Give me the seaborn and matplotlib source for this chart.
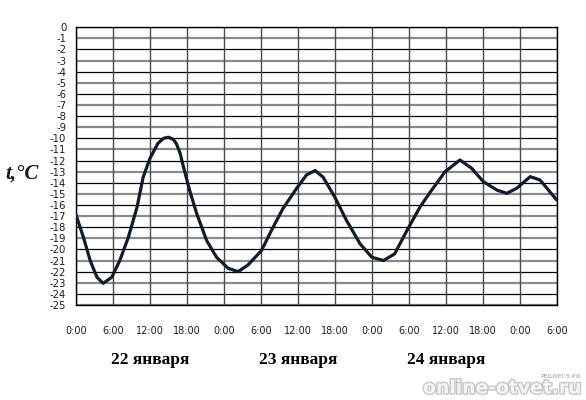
import matplotlib
matplotlib.use("Agg")
import matplotlib.pyplot as plt
import matplotlib.patheffects as pe
import matplotlib.transforms as mtransforms
import numpy as np
import pandas as pd
import seaborn as sns

# Temperature readings (hours since 0:00 on 22 January, degrees C).
hours = [0, 1.2, 2.3, 3.4, 4.4, 5.8, 7.1, 8.5, 9.9, 10.9, 12.0, 13.3, 14.2, 15.0,
         15.8, 16.3, 16.9, 17.4, 18.5, 19.6, 21.2, 22.8, 24.7, 26.3, 27.9, 30.1,
         31.7, 33.6, 35.8, 37.4, 38.8, 40.1, 42.0, 43.9, 46.1, 48.0, 49.9, 51.7,
         53.7, 55.8, 57.4, 59.9, 62.3, 64.2, 66.1, 68.3, 69.9, 71.5, 73.7, 75.3, 78]
temps = [-16.9, -18.9, -21.0, -22.5, -23.05, -22.5, -21.0, -18.9, -16.2, -13.5,
         -11.8, -10.45, -10.0, -9.9, -10.1, -10.5, -11.35, -12.5, -14.8, -16.8,
         -19.2, -20.7, -21.7, -22.0, -21.4, -20.1, -18.3, -16.3, -14.5, -13.3,
         -12.9, -13.5, -15.3, -17.4, -19.5, -20.7, -21.0, -20.4, -18.3, -16.2,
         -14.9, -13.0, -11.95, -12.7, -13.9, -14.66, -14.95, -14.5, -13.45, -13.75,
         -15.55]

tick_hours = list(range(0, 79, 6))
tick_labels = ["0:00", "6:00", "12:00", "18:00"] * 3 + ["0:00", "6:00"]
day_labels = ["22 января", "23 января", "24 января"]
day_centers = [12, 36, 60]

df = pd.DataFrame({"hour": hours, "temp": temps})

sns.set_style("white")
plt.rcParams["font.family"] = ["DejaVu Sans"]

fig = plt.figure(figsize=(5.86, 4.0), dpi=100)
ax = fig.add_axes([0.1297, 0.2375, 0.8203, 0.6945])

# grid: alternating black / grey horizontal rules, dark vertical rules
for v in range(-25, 1):
    if v % 2 == 0:
        ax.axhline(v, color="black", lw=0.9, zorder=1)
    else:
        ax.axhline(v, color="#8a8a8a", lw=1.6, zorder=1)
for h in tick_hours:
    ax.axvline(h, color="#4a4a4a", lw=1.0, zorder=1)

sns.lineplot(data=df, x="hour", y="temp", ax=ax, color="#121a2c", lw=2.3,
             zorder=3, estimator=None, sort=False,
             solid_joinstyle="round", solid_capstyle="round")

ax.set_xlim(0, 78)
ax.set_ylim(-25, 0)
ax.set_yticks(range(-25, 1))
ax.set_yticklabels([str(v) for v in range(-25, 1)], fontsize=7.3, color="#1c1c2c")
ax.set_xticks(tick_hours)
ax.set_xticklabels(tick_labels, fontsize=7, color="#1c1c2c")
ax.set_xticks([24, 48, 72], minor=True)
ax.tick_params(axis="x", which="major", length=0, pad=15)
ax.tick_params(axis="x", which="minor", length=8, width=1.0, color="black", direction="out")
ax.tick_params(axis="y", length=0, pad=7)
ax.set_xlabel("")
ax.set_ylabel("")
for s in ax.spines.values():
    s.set_color("black")
    s.set_linewidth(1.0)

trans = mtransforms.blended_transform_factory(ax.transData, fig.transFigure)
for lbl, c in zip(day_labels, day_centers):
    ax.text(c, 0.1, lbl, transform=trans, ha="center", va="center",
            fontsize=12.5, fontweight="bold", family="Liberation Serif", color="black")

fig.text(0.038, 0.565, "t,°C", ha="center", va="center", fontsize=15,
         fontweight="bold", style="italic", family="Liberation Serif", color="#1a1a2a")

fig.text(0.992, 0.058, "РЕШУЕГЭ.РФ", ha="right", va="center", fontsize=4.5, color="#9a9a9a")
fig.text(0.992, 0.03, "online-otvet.ru", ha="right", va="center", fontsize=13.5,
         fontweight="bold", color="#f4f4f4",
         path_effects=[pe.withStroke(linewidth=2, foreground="#c8c8c8")])

fig.savefig("out.png", dpi=100)
